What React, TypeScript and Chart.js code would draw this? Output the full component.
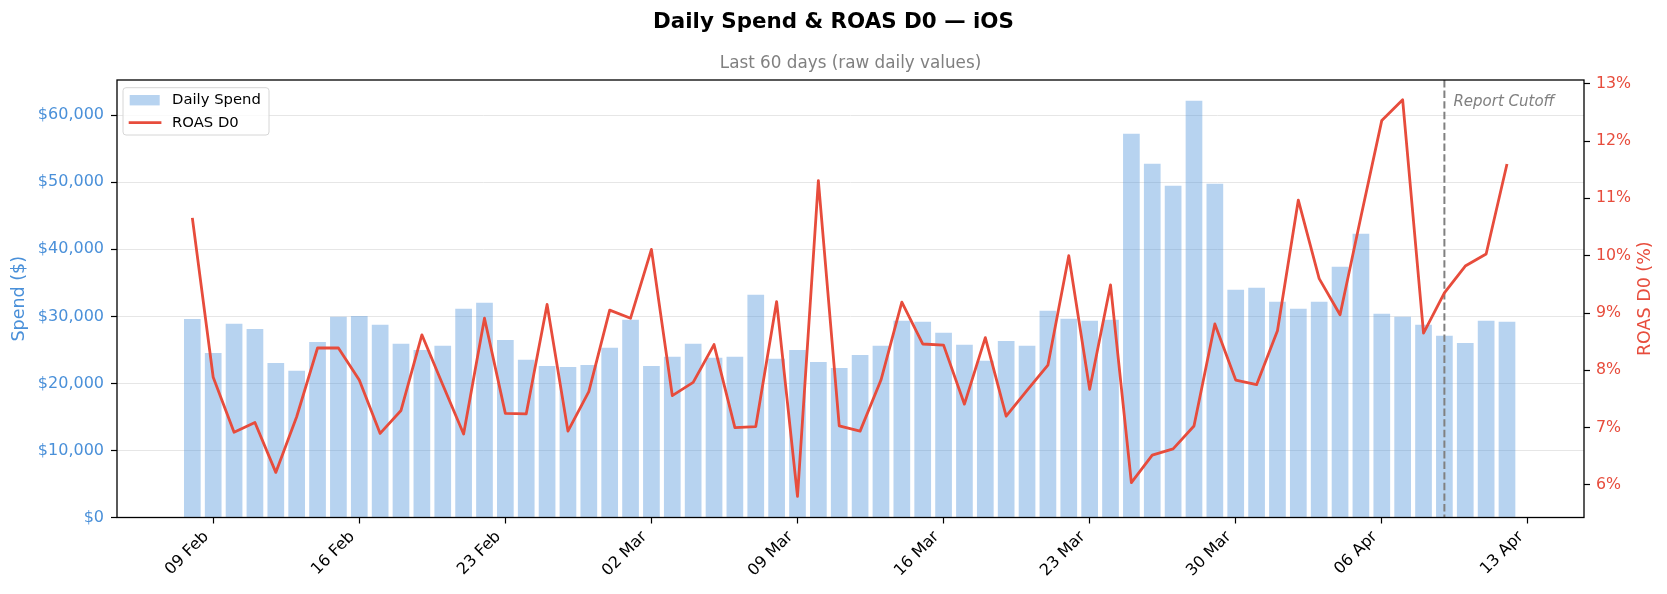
import { useEffect, useRef } from 'react';
import { Chart, registerables } from 'chart.js';

Chart.register(...registerables);

// one value per day, 08 Feb .. 12 Apr (index 0 = 08 Feb)
const spend = [
  29600, 24550, 28880, 28130, 23060, 21870, 26190, 29930, 30070, 28730,
  25900, 25000, 25600, 31120, 32020, 26490, 23510, 22610, 22460, 22760,
  25300, 29480, 22610, 23960, 25900, 23810, 23960, 33210, 23660, 25000,
  23210, 22310, 24250, 25600, 29330, 29180, 27540, 25750, 23360, 26340,
  25600, 30820, 29630, 29330, 29480, 57240, 52760, 49480, 62160, 49780,
  33960, 34250, 32160, 31120, 32160, 37390, 42310, 30370, 29930, 28730,
  27090, 26040, 29330, 29180,
];

const roasD0 = [
  10.66, 7.88, 6.92, 7.09, 6.22, 7.19, 8.39, 8.39, 7.83, 6.9,
  7.3, 8.62, 7.75, 6.89, 8.91, 7.25, 7.24, 9.15, 6.94, 7.63,
  9.05, 8.91, 10.11, 7.56, 7.79, 8.45, 7.0, 7.02, 9.2, 5.8,
  11.31, 7.03, 6.94, 7.83, 9.19, 8.46, 8.44, 7.41, 8.57, 7.2,
  7.65, 8.09, 10.0, 7.67, 9.49, 6.04, 6.52, 6.63, 7.03, 8.81,
  7.83, 7.75, 8.69, 10.97, 9.6, 8.97, 10.68, 12.36, 12.72, 8.65,
  9.35, 9.82, 10.03, 11.6,
];

// weekly ticks, first one is 09 Feb (index 1)
const xTickLabels = [
  '09 Feb', '16 Feb', '23 Feb', '02 Mar', '09 Mar',
  '16 Mar', '23 Mar', '30 Mar', '06 Apr', '13 Apr',
];
const xTickValues = xTickLabels.map((_, k) => 1 + 7 * k);

const spendTicks = [0, 10000, 20000, 30000, 40000, 50000, 60000];
const roasTicks = [6, 7, 8, 9, 10, 11, 12, 13];

const cutoffIndex = 60; // 09 Apr

const BLUE = '#4a90d9';
const RED = '#e74c3c';
const BAR_FILL = 'rgba(74, 144, 217, 0.4)';
const FONT = "'DejaVu Sans', sans-serif";

const decorPlugin = {
  id: 'decor',
  afterDatasetDraw(chart: any, args: any) {
    if (args.index !== 0) return;
    const { ctx, chartArea } = chart;
    const x = chart.scales.x.getPixelForValue(cutoffIndex);
    ctx.save();
    ctx.strokeStyle = '#808080';
    ctx.lineWidth = 2;
    ctx.setLineDash([7.4, 3.2]);
    ctx.beginPath();
    ctx.moveTo(x, chartArea.top);
    ctx.lineTo(x, chartArea.bottom);
    ctx.stroke();
    ctx.restore();
  },
  afterDraw(chart: any) {
    const { ctx, chartArea, width } = chart;
    const { left, right, top, bottom } = chartArea;
    ctx.save();

    // spines
    ctx.strokeStyle = '#000';
    ctx.lineWidth = 1.3;
    ctx.strokeRect(left, top, right - left, bottom - top);

    // title + subtitle
    ctx.textAlign = 'center';
    ctx.textBaseline = 'alphabetic';
    ctx.fillStyle = '#000';
    ctx.font = `bold 21.4px ${FONT}`;
    ctx.fillText('Daily Spend & ROAS D0 — iOS', width / 2, 27.7);
    ctx.fillStyle = '#808080';
    ctx.font = `16.8px ${FONT}`;
    ctx.fillText('Last 60 days (raw daily values)', (left + right) / 2, 68.3);

    // axis titles, both read bottom to top
    const midY = (top + bottom) / 2;
    ctx.font = `17.5px ${FONT}`;
    ctx.textBaseline = 'middle';
    ctx.save();
    ctx.translate(19, midY);
    ctx.rotate(-Math.PI / 2);
    ctx.fillStyle = BLUE;
    ctx.fillText('Spend ($)', 0, 0);
    ctx.restore();
    ctx.save();
    ctx.translate(1645, midY);
    ctx.rotate(-Math.PI / 2);
    ctx.fillStyle = RED;
    ctx.fillText('ROAS D0 (%)', 0, 0);
    ctx.restore();

    // cutoff label
    const cx = chart.scales.x.getPixelForValue(cutoffIndex);
    ctx.textAlign = 'left';
    ctx.textBaseline = 'alphabetic';
    ctx.font = `italic 15px ${FONT}`;
    ctx.fillStyle = '#808080';
    ctx.fillText('Report Cutoff', cx + 9, top + 25.7);

    // legend
    const bx = left + 6;
    const by = top + 7.7;
    const bw = 146;
    const bh = 47.3;
    ctx.beginPath();
    ctx.roundRect(bx, by, bw, bh, 3);
    ctx.fillStyle = 'rgba(255,255,255,0.8)';
    ctx.fill();
    ctx.strokeStyle = '#d6d6d6';
    ctx.lineWidth = 1;
    ctx.stroke();

    ctx.fillStyle = BAR_FILL;
    ctx.fillRect(bx + 6.7, by + 7.3, 30, 10.4);
    ctx.strokeStyle = RED;
    ctx.lineWidth = 2.8;
    ctx.beginPath();
    ctx.moveTo(bx + 5.7, by + 35);
    ctx.lineTo(bx + 38.4, by + 35);
    ctx.stroke();

    ctx.fillStyle = '#000';
    ctx.font = `14.8px ${FONT}`;
    ctx.textBaseline = 'middle';
    ctx.fillText('Daily Spend', bx + 49, by + 12.8);
    ctx.fillText('ROAS D0', bx + 49, by + 35);

    ctx.restore();
  },
};

export default function App() {
  const canvasRef = useRef<HTMLCanvasElement | null>(null);

  useEffect(() => {
    document.body.style.margin = '0';
    if (!canvasRef.current) return;
    const ctx = canvasRef.current.getContext('2d');
    if (!ctx) return;

    Chart.defaults.font.family = FONT;

    const chart = new Chart(ctx, {
      type: 'bar',
      data: {
        datasets: [
          {
            type: 'bar',
            label: 'Daily Spend',
            data: spend.map((v, i) => ({ x: i, y: v })),
            backgroundColor: BAR_FILL,
            borderWidth: 0,
            categoryPercentage: 1,
            barPercentage: 0.8,
            yAxisID: 'y',
            order: 2,
          },
          {
            type: 'line',
            label: 'ROAS D0',
            data: roasD0.map((v, i) => ({ x: i, y: v })),
            borderColor: RED,
            backgroundColor: RED,
            borderWidth: 2.8,
            borderJoinStyle: 'round',
            pointRadius: 0,
            tension: 0,
            yAxisID: 'y1',
            order: 1,
          },
        ] as any,
      },
      options: {
        responsive: true,
        maintainAspectRatio: false,
        animation: false,
        events: [],
        layout: { padding: { top: 80, left: 0, right: 0, bottom: 0 } },
        plugins: {
          legend: { display: false },
          title: { display: false },
          tooltip: { enabled: false },
        },
        scales: {
          x: {
            type: 'linear',
            min: -3.61,
            max: 66.69,
            offset: false,
            afterFit: (scale: any) => {
              scale.height = 76.5;
            },
            afterBuildTicks: (scale: any) => {
              scale.ticks = xTickValues.map((v) => ({ value: v }));
            },
            grid: {
              offset: false,
              drawOnChartArea: false,
              drawTicks: true,
              tickLength: 6,
              tickColor: '#000',
              tickWidth: 1.2,
            },
            border: { display: false },
            ticks: {
              autoSkip: false,
              maxRotation: 45,
              minRotation: 45,
              padding: 4,
              labelOffset: -7,
              color: '#000',
              font: { size: 16 },
              callback: (_v: any, i: number) => xTickLabels[i],
            },
          },
          y: {
            position: 'left',
            min: 0,
            max: 65250,
            afterFit: (scale: any) => {
              scale.width = 117;
            },
            afterBuildTicks: (scale: any) => {
              scale.ticks = spendTicks.map((v) => ({ value: v }));
            },
            grid: {
              color: '#e6e6e6',
              lineWidth: 1,
              tickLength: 6,
              tickColor: '#000',
              tickWidth: 1.2,
            },
            border: { display: false },
            ticks: {
              padding: 7,
              color: BLUE,
              font: { size: 16 },
              callback: (v: any) => '$' + Number(v).toLocaleString('en-US'),
            },
          },
          y1: {
            position: 'right',
            min: 5.433,
            max: 13.065,
            afterFit: (scale: any) => {
              scale.width = 83;
            },
            afterBuildTicks: (scale: any) => {
              scale.ticks = roasTicks.map((v) => ({ value: v }));
            },
            grid: {
              drawOnChartArea: false,
              tickLength: 6,
              tickColor: '#000',
              tickWidth: 1.2,
            },
            border: { display: false },
            ticks: {
              padding: 6,
              color: RED,
              font: { size: 15.8 },
              callback: (v: any) => `${v}%`,
            },
          },
        },
      } as any,
      plugins: [decorPlugin],
    });

    return () => {
      chart.destroy();
    };
  }, []);

  return (
    <div style={{ position: 'relative', width: 1667, height: 594 }}>
      <canvas ref={canvasRef} />
    </div>
  );
}
